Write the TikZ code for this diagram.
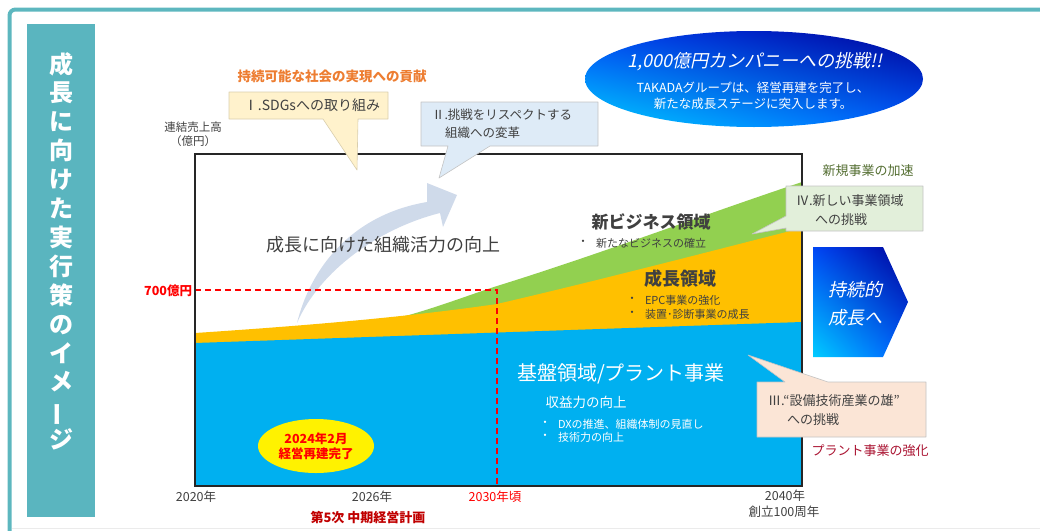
\documentclass[tikz,border=0pt]{standalone}
\usepackage{fontspec}
\setmainfont{Noto Sans CJK JP}
\newfontfamily\slantjp[FakeSlant=0.22]{Noto Sans CJK JP}
\usetikzlibrary{positioning,shapes.geometric,shadings}

\definecolor{frameteal}{RGB}{93,183,191}
\definecolor{titleteal}{RGB}{90,181,191}
\definecolor{baseblue}{RGB}{0,176,240}
\definecolor{groworange}{RGB}{255,192,0}
\definecolor{newgreen}{RGB}{146,208,80}
\definecolor{txtgray}{RGB}{64,64,64}
\definecolor{arrowgray}{RGB}{207,218,234}
\definecolor{headorange}{RGB}{237,125,49}
\definecolor{boxyellow}{RGB}{255,242,204}
\definecolor{boxblue}{RGB}{222,235,247}
\definecolor{boxgreen}{RGB}{226,239,218}
\definecolor{boxpeach}{RGB}{251,229,214}
\definecolor{boxline}{RGB}{195,195,195}
\definecolor{leafgreen}{RGB}{84,110,50}
\definecolor{plantred}{RGB}{170,20,50}
\definecolor{planred}{RGB}{192,0,0}
\definecolor{gradul}{RGB}{0,70,245}
\definecolor{gradur}{RGB}{0,0,150}
\definecolor{gradll}{RGB}{0,205,255}
\definecolor{gradlr}{RGB}{0,90,255}
\newcommand{\fs}[1]{\fontsize{#1}{#1}\selectfont}

\begin{document}
\begin{tikzpicture}[x=1pt,y=-1pt,
    every node/.style={inner sep=0pt,outer sep=0pt},
    txt/.style={text=txtgray},
    callout/.style={draw=boxline,line width=0.6pt,line join=round},
    reddash/.style={red,line width=1.8pt,dash pattern=on 6pt off 4pt},
    bluegrad/.style={upper left=gradul,upper right=gradur,lower left=gradll,lower right=gradlr}]
  \useasboundingbox (0,0) rectangle (1040,530);

  % frame and title bar
  \draw[frameteal,line width=4pt,rounded corners=6pt] (1046,9.5) -- (9.5,9.5) -- (9.5,534);
  \draw[black!8,line width=1pt] (12,528) -- (1040,528);
  \fill[titleteal] (27,24) rectangle (95,517);
  \foreach \ch [count=\i from 0] in {成,長,に,向,け,た,実,行,策,の,イ,メ,{\rotatebox[origin=c]{90}{ー}},ジ}
    \node[anchor=base,text=white,font=\bfseries\fs{24}] (title\i) at (61,{73+28.9*\i}) {\ch};

  % business areas
  \fill[newgreen] (380,322) .. controls (420,314) and (460,298) .. (497,286)
    .. controls (600,254) and (700,216) .. (802,182) -- (802,486) -- (380,486) -- cycle;
  \fill[groworange] (195,333) .. controls (300,326) and (400,318) .. (497,304)
    .. controls (600,280) and (700,254) .. (802,228) -- (802,486) -- (195,486) -- cycle;
  \fill[baseblue] (195,343) -- (802,322) -- (802,486) -- (195,486) -- cycle;

  % growth arrow
  \fill[arrowgray] (297,323) .. controls (310,270) and (350,215) .. (427,202) -- (427,183) -- (457,195)
    -- (443,227) -- (440,213) .. controls (380,228) and (320,270) .. (297,323) -- cycle;
  \node[txt,font=\fs{18}] (orgpower) at (383,245) {成長に向けた組織活力の向上};

  % 700 line
  \node[anchor=east,text=red,font=\bfseries\fs{12.5}] (v700) at (192,291) {700億円};
  \coordinate (y700) at (195,290);
  \coordinate (x2030) at (497,290);
  \coordinate (x2030b) at (497,486);
  \draw[reddash] (y700) -- (x2030) -- (x2030b);

  \draw[black!85,line width=1.3pt] (195,154) rectangle (802,486);

  % axis labels
  \node[txt,font=\fs{11.5}] (sales) at (193,127) {連結売上高};
  \node[txt,font=\fs{11.5},below=3pt of sales] (unit) {（億円）};
  \node[txt,font=\fs{12.5}] (yr2020) at (196,497) {2020年};
  \node[txt,font=\fs{12.5}] (yr2026) at (372,497) {2026年};
  \node[text=red,font=\fs{12.5}] (yr2030) at (495,497) {2030年頃};
  \node[txt,font=\fs{12.5}] (yr2040) at (785,496) {2040年};
  \node[txt,font=\fs{12.5}] (found) at (784,512) {創立100周年};
  \node[text=planred,font=\bfseries\fs{13}] (plan5) at (368,518) {第5次 中期経営計画};

  % area texts
  \node[txt,font=\bfseries\fs{17}] (newbiz) at (651,222) {新ビジネス領域};
  \node[txt,font=\fs{11}] (nb1dot) at (583,243) {・};
  \node[txt,font=\fs{11},anchor=west] (nb1) at (596,243) {新たなビジネスの確立};
  \node[txt,font=\bfseries\fs{18}] (growth) at (680,279) {成長領域};
  \node[txt,font=\fs{11}] (gr1dot) at (632,300) {・};
  \node[txt,font=\fs{11}] (gr2dot) at (632,314) {・};
  \node[txt,font=\fs{11},anchor=west] (gr1) at (645,300) {EPC事業の強化};
  \node[txt,font=\fs{11},anchor=west] (gr2) at (645,314) {装置･診断事業の成長};
  \node[text=white,font=\fs{20}] (basebiz) at (621,374) {基盤領域/プラント事業};
  \node[text=white,font=\fs{13.5}] (profit) at (586,402) {収益力の向上};
  \node[text=white,font=\fs{11}] (bs1dot) at (545,424) {・};
  \node[text=white,font=\fs{11}] (bs2dot) at (545,437) {・};
  \node[text=white,font=\fs{11},anchor=west] (bs1) at (558,424) {DXの推進、組織体制の見直し};
  \node[text=white,font=\fs{11},anchor=west] (bs2) at (558,437) {技術力の向上};
  \node[ellipse,fill=yellow,minimum width=116,minimum height=54,align=center,text=red,
        font=\bfseries\fs{12.5}] (rebuild) at (316,446) {2024年2月\\[2pt]経営再建完了};

  % callouts
  \node[text=headorange,font=\bfseries\fs{13.5}] (sdgshead) at (332,76) {持続可能な社会の実現への貢献};
  \filldraw[callout,fill=boxyellow,draw=boxyellow!85!black] (229,92) -- (388,92) -- (388,119) -- (358,119)
    -- (357,170) -- (323,119) -- (229,119) -- cycle;
  \node[txt,font=\fs{14}] (sdgs) at (312,105) {Ⅰ.SDGsへの取り組み};

  \filldraw[callout,fill=boxblue] (421,102) -- (598,102) -- (598,146) -- (490,146)
    -- (439,178) -- (448,146) -- (421,146) -- cycle;
  \node[txt,font=\fs{12.5},anchor=west] (respect1) at (432,115) {Ⅱ.挑戦をリスペクトする};
  \node[txt,font=\fs{12.5},anchor=west] (respect2) at (445,133) {組織への変革};

  \node[text=leafgreen,font=\fs{13}] (accel) at (868,171) {新規事業の加速};
  \filldraw[callout,fill=boxgreen] (786,186) -- (923,186) -- (923,231) -- (786,231) -- (786,228)
    -- (752,234) -- (786,216) -- cycle;
  \node[txt,font=\fs{13},anchor=west] (newfield1) at (796,201) {Ⅳ.新しい事業領域};
  \node[txt,font=\fs{13},anchor=west] (newfield2) at (815,220) {への挑戦};

  \filldraw[callout,fill=boxpeach] (757,382) -- (785,382) -- (748,355) -- (828,382) -- (926,382)
    -- (926,437) -- (757,437) -- cycle;
  \node[txt,font=\fs{13},anchor=west] (hero1) at (768,401) {Ⅲ.“設備技術産業の雄”};
  \node[txt,font=\fs{13},anchor=west] (hero2) at (787,420) {への挑戦};
  \node[text=plantred,font=\fs{13}] (plantup) at (870,451) {プラント事業の強化};

  % goal ellipse
  \node[ellipse,shade,bluegrad,minimum width=338,minimum height=96] (goal) at (754,79) {};
  \node[text=white,font=\slantjp\fs{18}] (goaltitle) at (755,62) {1,000億円カンパニーへの挑戦!!};
  \node[text=white,font=\fs{12.5}] (goal1) at (753,88) {TAKADAグループは、経営再建を完了し、};
  \node[text=white,font=\fs{12.5},below=4pt of goal1] (goal2) {新たな成長ステージに突入します。};

  % sustained growth chevron
  \shade[bluegrad] (813,247) -- (883,247) -- (908,302) -- (883,357) -- (813,357) -- cycle;
  \node[text=white,font=\slantjp\fs{18}] (sustain1) at (855,290) {持続的};
  \node[text=white,font=\slantjp\fs{18}] (sustain2) at (855,318) {成長へ};
\end{tikzpicture}
\end{document}
